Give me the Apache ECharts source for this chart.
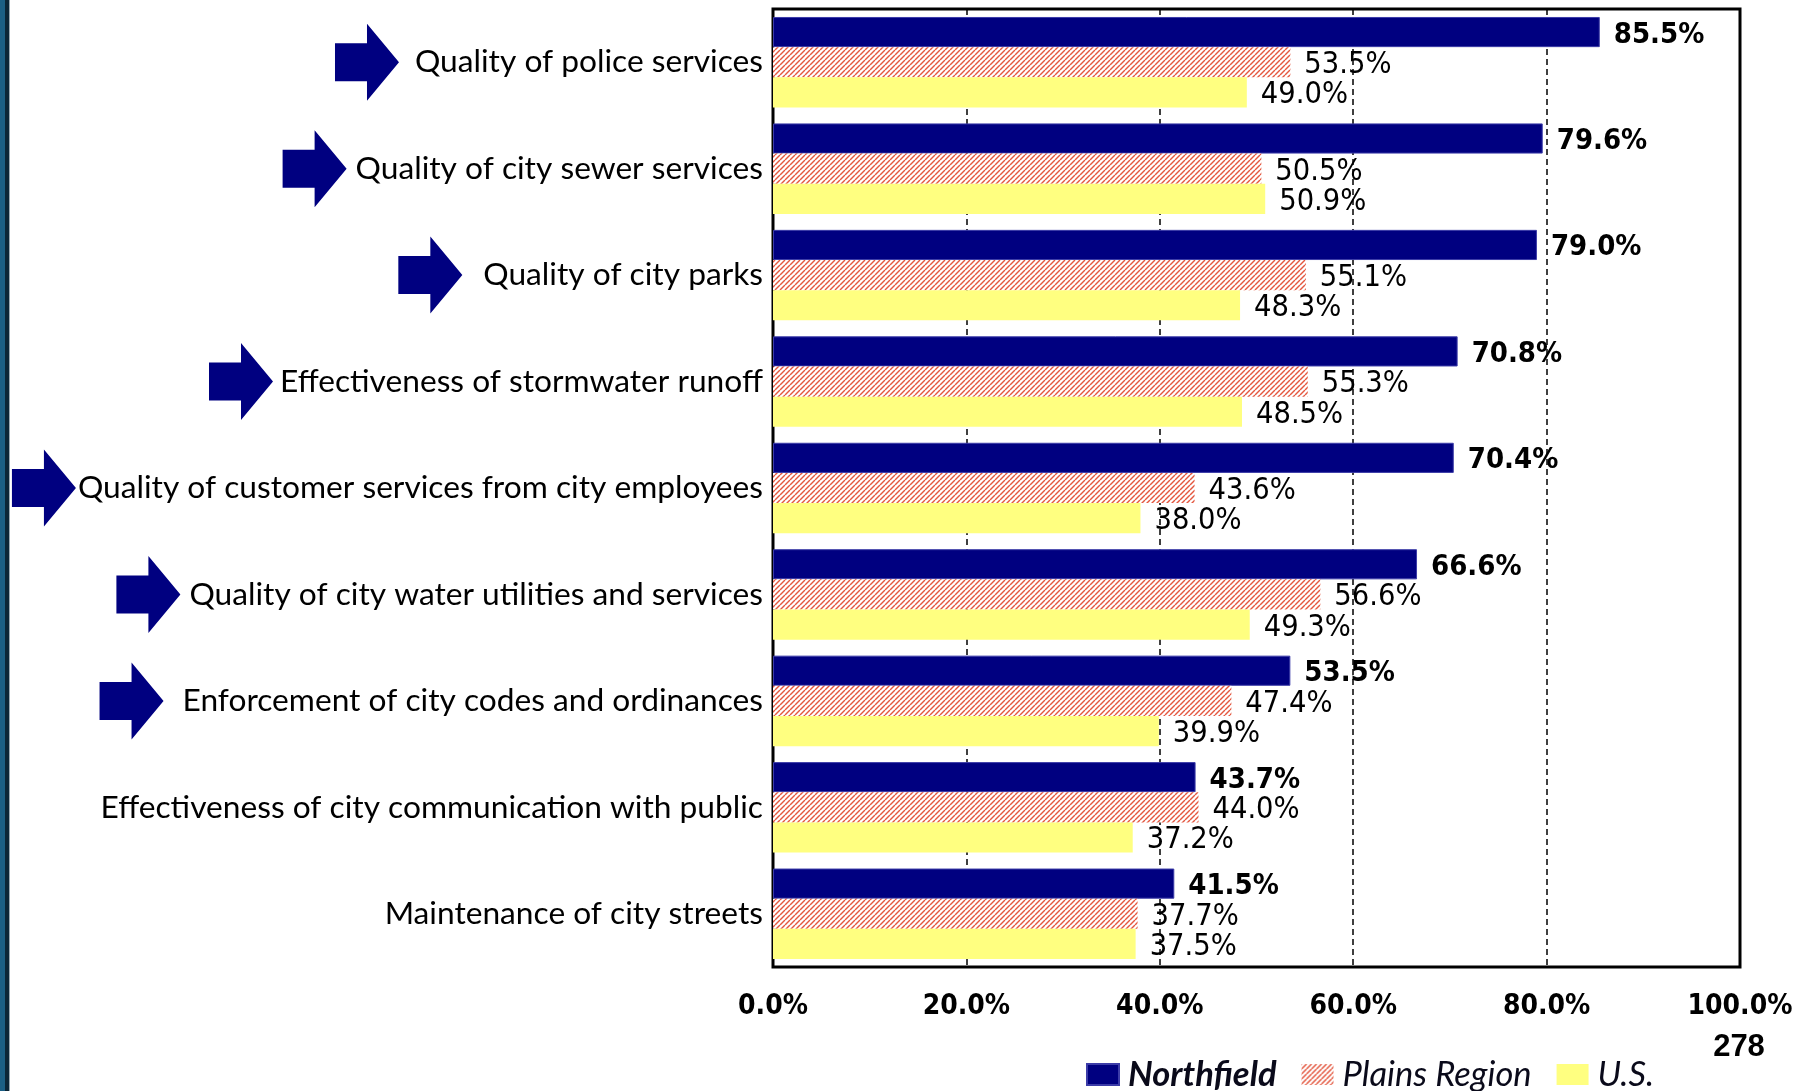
<!DOCTYPE html>
<html>
<head>
<meta charset="utf-8">
<title>Service quality ratings</title>
<script src="https://cdn.jsdelivr.net/npm/echarts@6/dist/echarts.min.js"></script>
<style>
  html, body { margin: 0; padding: 0; background: #ffffff; }
  #chart { width: 1803px; height: 1091px; }
</style>
</head>
<body>
<div id="chart"></div>
<script>
// ---- data ----
const categories = [
  'Quality of police services',
  'Quality of city sewer services',
  'Quality of city parks',
  'Effectiveness of stormwater runoff',
  'Quality of customer services from city employees',
  'Quality of city water utilities and services',
  'Enforcement of city codes and ordinances',
  'Effectiveness of city communication with public',
  'Maintenance of city streets'
];
const northfield   = [85.5, 79.6, 79.0, 70.8, 70.4, 66.6, 53.5, 43.7, 41.5];
const plainsRegion = [53.5, 50.5, 55.1, 55.3, 43.6, 56.6, 47.4, 44.0, 37.7];
const usAverage    = [49.0, 50.9, 48.3, 48.5, 38.0, 49.3, 39.9, 37.2, 37.5];
const seriesNames  = ['Northfield', 'Plains Region', 'U.S.'];
// rows highlighted with an arrow
const highlighted  = [true, true, true, true, true, true, true, false, false];
const pageNumber   = '278';

// ---- styling ----
const NAVY = '#000080';
const YELLOW = '#ffff80';
const HATCH = '#e4573f';
const catFont = 'Lato, "Open Sans", sans-serif';
const numFont = '"DejaVu Sans Condensed", "DejaVu Sans", sans-serif';
const GRID = { left: 773, right: 63, top: 9, bottom: 124 };
const CAT_LABEL_SIZE = 31.7;
const CAT_LABEL_MARGIN = 10;
// extra space between an arrow tip and its row label
const arrowGap = [16, 9, 21, 7, 2, 9, 19, 0, 0];

// diagonal red hatch used for the regional series
function hatchPattern() {
  const s = 5;
  const c = document.createElement('canvas');
  c.width = s; c.height = s;
  const ctx = c.getContext('2d');
  ctx.fillStyle = '#ffffff';
  ctx.fillRect(0, 0, s, s);
  ctx.strokeStyle = HATCH;
  ctx.lineWidth = 1.4;
  for (let k = -1; k <= 1; k++) {
    ctx.beginPath();
    ctx.moveTo(k * s, s);
    ctx.lineTo(k * s + s, 0);
    ctx.stroke();
  }
  return { image: c, repeat: 'repeat' };
}

const pct = v => v.toFixed(1) + '%';

function valueLabel(bold) {
  return {
    show: true,
    position: 'right',
    distance: 14,
    offset: [0, 3],
    formatter: p => pct(p.value),
    fontFamily: numFont,
    fontSize: bold ? 29 : 30.5,
    fontWeight: bold ? 'bold' : 'normal',
    color: '#000000'
  };
}

const chart = echarts.init(document.getElementById('chart'), null, { renderer: 'canvas' });

const option = {
  backgroundColor: '#ffffff',
  animation: false,
  grid: {
    left: GRID.left, right: GRID.right, top: GRID.top, bottom: GRID.bottom,
    show: true,
    borderColor: '#000000',
    borderWidth: 3,
    backgroundColor: 'transparent'
  },
  legend: {
    left: 1086,
    top: 1057,
    padding: 0,
    itemWidth: 32,
    itemHeight: 21,
    itemGap: 25,
    icon: 'rect',
    textStyle: {
      fontFamily: catFont,
      fontSize: 34.5,
      fontStyle: 'italic',
      color: '#0a0a1a',
      padding: [0, 0, 0, 4]
    },
    data: [
      { name: seriesNames[0], textStyle: { fontWeight: 'bold' } },
      { name: seriesNames[1] },
      { name: seriesNames[2] }
    ]
  },
  xAxis: {
    type: 'value',
    min: 0,
    max: 100,
    interval: 20,
    axisLine: { show: false },
    axisTick: { show: false },
    axisLabel: {
      formatter: v => pct(v),
      fontFamily: numFont,
      fontSize: 28,
      fontWeight: 'bold',
      color: '#000000',
      margin: 26
    },
    splitLine: {
      show: true,
      lineStyle: { color: '#000000', width: 1.5, type: [6, 4] }
    }
  },
  yAxis: {
    type: 'category',
    inverse: true,
    data: categories,
    axisLine: { show: false },
    axisTick: { show: false },
    axisLabel: {
      fontFamily: catFont,
      fontSize: CAT_LABEL_SIZE,
      color: '#000000',
      margin: CAT_LABEL_MARGIN,
      padding: [2, 0, 0, 0]
    }
  },
  series: [
    {
      name: seriesNames[0],
      type: 'bar',
      data: northfield,
      barGap: '0%',
      barCategoryGap: '15%',
      itemStyle: { color: NAVY, borderColor: '#3c3ca8', borderWidth: 1 },
      label: valueLabel(true)
    },
    {
      name: seriesNames[1],
      type: 'bar',
      data: plainsRegion,
      barGap: '0%',
      barCategoryGap: '15%',
      itemStyle: { color: hatchPattern() },
      label: valueLabel(false)
    },
    {
      name: seriesNames[2],
      type: 'bar',
      data: usAverage,
      barGap: '0%',
      barCategoryGap: '15%',
      itemStyle: { color: YELLOW },
      label: valueLabel(false)
    }
  ]
};

chart.setOption(option);

// ---- decorations: page strip, page number and row arrows ----
const measureCtx = document.createElement('canvas').getContext('2d');
measureCtx.font = CAT_LABEL_SIZE + 'px ' + catFont;

function arrowPoints(tipX, cy) {
  const w = 64, h = 77, bodyH = 38, headW = 32;
  return [
    [tipX - w, cy - bodyH / 2],
    [tipX - headW, cy - bodyH / 2],
    [tipX - headW, cy - h / 2],
    [tipX, cy],
    [tipX - headW, cy + h / 2],
    [tipX - headW, cy + bodyH / 2],
    [tipX - w, cy + bodyH / 2]
  ];
}

const graphics = [
  { type: 'rect', left: 0, top: 0, shape: { width: 5, height: 1091 }, style: { fill: '#1b5f85' }, z: 10 },
  { type: 'rect', left: 5, top: 0, shape: { width: 4, height: 1091 }, style: { fill: '#0b2638' }, z: 10 },
  { type: 'rect', left: 9, top: 0, shape: { width: 1, height: 1091 }, style: { fill: '#9aa8b2' }, z: 10 },
  {
    type: 'text',
    x: 1739, y: 1047,
    style: {
      text: pageNumber,
      font: 'bold 31px "Liberation Sans", Arial, sans-serif',
      fill: '#000000',
      align: 'center',
      verticalAlign: 'middle'
    },
    z: 10
  }
];

categories.forEach((name, i) => {
  if (!highlighted[i]) return;
  const cy = chart.convertToPixel({ yAxisIndex: 0 }, name);
  const textW = measureCtx.measureText(name).width;
  const labelLeft = GRID.left - CAT_LABEL_MARGIN - textW;
  const tipX = labelLeft - arrowGap[i];
  graphics.push({
    type: 'polygon',
    shape: { points: arrowPoints(tipX, cy) },
    style: { fill: NAVY },
    z: 10
  });
});

chart.setOption({ graphic: graphics });
</script>
</body>
</html>
